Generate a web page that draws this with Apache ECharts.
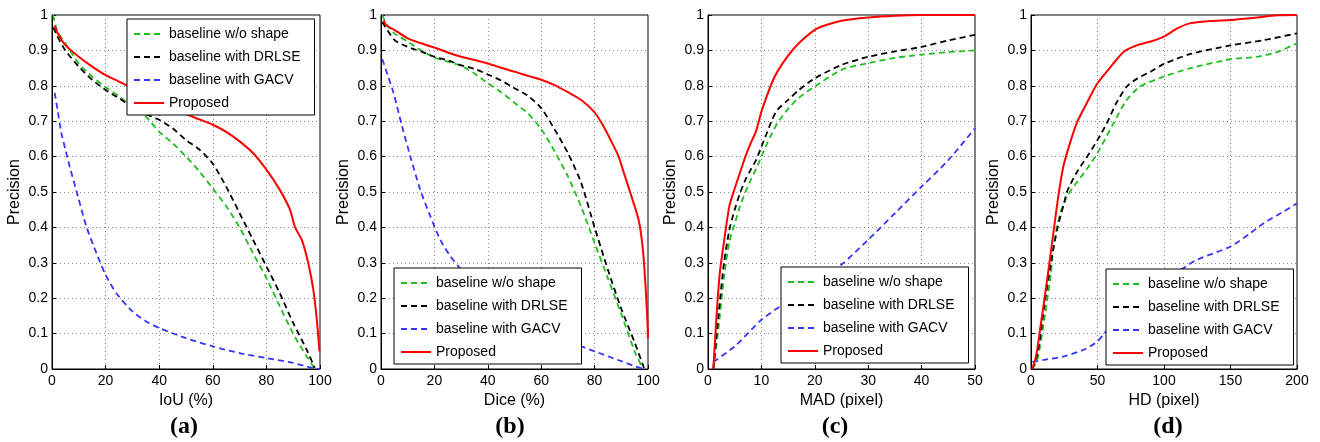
<!DOCTYPE html>
<html><head><meta charset="utf-8">
<script src="https://cdn.jsdelivr.net/npm/echarts@6/dist/echarts.min.js"></script>
<style>html,body{margin:0;padding:0;background:#fff}#c{width:1320px;height:442px}</style>
</head><body><div id="c"></div>
<script>
// ---------- data ----------
const seriesNames = ['baseline w/o shape', 'baseline with DRLSE', 'baseline with GACV', 'Proposed'];
const panelLabels = ['(a)', '(b)', '(c)', '(d)'];
const xAxisNames = ['IoU (%)', 'Dice (%)', 'MAD (pixel)', 'HD (pixel)'];
const xMaxes = [100, 100, 50, 200];
const xIntervals = [20, 20, 10, 50];
const yTicks = [0, 0.1, 0.2, 0.3, 0.4, 0.5, 0.6, 0.7, 0.8, 0.9, 1];

// (a) IoU
const iouWoShape = [[0.4,1.0],[2,0.955],[5,0.92],[10,0.863],[15,0.826],[20,0.796],[25,0.77],[30,0.74],[35,0.713],[40,0.67],[45,0.638],[50,0.60],[55,0.558],[60,0.51],[65,0.46],[70,0.40],[75,0.327],[80,0.257],[85,0.177],[90,0.10],[95,0.036],[98,0.002]];
const iouDrlse = [[0.5,0.965],[2,0.94],[5,0.90],[10,0.854],[15,0.817],[20,0.788],[25,0.765],[30,0.74],[35,0.72],[40,0.704],[45,0.68],[50,0.647],[55,0.62],[60,0.58],[65,0.515],[70,0.44],[75,0.365],[80,0.29],[85,0.214],[90,0.13],[95,0.055],[98,0.003]];
const iouGacv = [[1,0.78],[2,0.735],[3.5,0.666],[5,0.62],[6.6,0.572],[9.7,0.487],[12.8,0.403],[16.6,0.327],[20,0.266],[24,0.214],[30,0.163],[35,0.135],[40,0.116],[50,0.087],[60,0.064],[70,0.045],[80,0.031],[90,0.017],[97,0.003],[100,0]];
const iouProposed = [[1,0.97],[2,0.95],[5,0.915],[10,0.882],[15,0.854],[20,0.83],[25,0.812],[30,0.793],[40,0.755],[50,0.72],[55,0.705],[60,0.69],[65,0.67],[70,0.643],[75,0.61],[80,0.563],[85,0.506],[88.8,0.45],[90.7,0.40],[93.2,0.365],[95.6,0.30],[97.5,0.224],[98.8,0.14],[99.8,0.05]];

// (b) Dice
const diceWoShape = [[0.5,1.0],[2,0.975],[5,0.948],[10,0.925],[15,0.90],[20,0.88],[25,0.868],[30,0.856],[35,0.835],[40,0.807],[45,0.782],[50,0.752],[55,0.722],[60,0.678],[65,0.615],[70,0.544],[75,0.458],[80,0.356],[85,0.256],[90,0.155],[95,0.05],[98,0.002]];
const diceDrlse = [[0.5,0.98],[5,0.93],[10,0.91],[15,0.897],[20,0.882],[25,0.872],[30,0.858],[35,0.848],[40,0.832],[45,0.815],[50,0.793],[55,0.772],[60,0.737],[65,0.677],[70,0.61],[75,0.525],[80,0.40],[85,0.28],[90,0.17],[95,0.075],[98.5,0.003]];
const diceGacv = [[0.5,0.875],[2.5,0.83],[4.7,0.78],[7.9,0.685],[11,0.60],[14.7,0.506],[18.5,0.431],[22.2,0.365],[26,0.318],[29,0.29],[35,0.235],[42,0.185],[50,0.145],[60,0.105],[70,0.078],[75,0.064],[80,0.05],[85,0.036],[90,0.022],[95,0.008],[98,0.001]];
const diceProposed = [[1,0.985],[2,0.97],[5,0.958],[10,0.934],[15,0.92],[20,0.908],[25,0.894],[30,0.882],[35,0.873],[40,0.863],[45,0.851],[50,0.84],[55,0.828],[60,0.817],[65,0.802],[70,0.782],[75,0.76],[80,0.725],[83,0.69],[86,0.647],[89,0.60],[91,0.553],[93.4,0.497],[96.5,0.421],[98.1,0.337],[99,0.243],[99.7,0.15],[100,0.087]];

// (c) MAD
const madWoShape = [[1,0],[2,0.12],[3,0.26],[4,0.36],[5,0.41],[6,0.46],[7,0.5],[8,0.534],[9,0.565],[10,0.60],[11,0.635],[12,0.666],[13,0.695],[15,0.735],[17,0.766],[20,0.798],[25,0.845],[30,0.864],[35,0.879],[40,0.888],[45,0.895],[50,0.90]];
const madDrlse = [[1,0],[2,0.158],[3,0.30],[4,0.393],[5,0.45],[6,0.497],[7,0.534],[8,0.563],[9,0.59],[10,0.628],[11,0.666],[12,0.704],[13,0.732],[15,0.76],[17,0.788],[20,0.821],[25,0.859],[30,0.882],[35,0.897],[40,0.91],[45,0.928],[50,0.944]];
const madGacv = [[1,0.02],[5,0.064],[10,0.139],[13.5,0.177],[20,0.243],[25,0.295],[30,0.365],[35,0.44],[40,0.515],[45,0.59],[50,0.68]];
const madProposed = [[1,0],[1.6,0.15],[2.2,0.27],[3,0.36],[4,0.46],[5,0.51],[6,0.555],[7,0.60],[8,0.638],[9,0.672],[10,0.727],[11,0.77],[12,0.81],[13,0.84],[15,0.885],[17,0.92],[20,0.958],[22,0.971],[25,0.984],[30,0.993],[35,0.998],[40,1.0],[50,1.0]];

// (d) HD
const hdWoShape = [[1,0],[5,0.03],[10,0.14],[15,0.27],[17,0.35],[22,0.44],[27,0.487],[32,0.515],[42,0.565],[50,0.61],[62,0.694],[72,0.76],[82,0.798],[100,0.826],[120,0.85],[150,0.875],[170,0.882],[185,0.895],[200,0.92]];
const hdDrlse = [[1,0],[5,0.045],[10,0.177],[15,0.30],[20,0.40],[25,0.47],[27,0.5],[34,0.553],[44,0.61],[50,0.647],[57,0.694],[64,0.75],[72,0.798],[80,0.821],[90,0.84],[100,0.862],[120,0.89],[150,0.914],[175,0.929],[200,0.948]];
const hdGacv = [[1,0.02],[10,0.026],[25,0.036],[40,0.055],[50,0.078],[55,0.10],[70,0.16],[90,0.23],[100,0.255],[114,0.284],[125,0.309],[150,0.346],[165,0.384],[175,0.412],[190,0.445],[200,0.468]];
const hdProposed = [[1,0],[4,0.04],[6.8,0.111],[11.8,0.243],[16.8,0.384],[20.5,0.487],[24.3,0.572],[29.3,0.638],[34.3,0.694],[41.8,0.75],[50,0.807],[60,0.854],[70,0.897],[80,0.915],[90,0.925],[100,0.939],[110,0.962],[120,0.977],[135,0.983],[150,0.986],[170,0.993],[185,0.999],[200,1.0]];

const panelData = [
  [iouWoShape, iouDrlse, iouGacv, iouProposed],
  [diceWoShape, diceDrlse, diceGacv, diceProposed],
  [madWoShape, madDrlse, madGacv, madProposed],
  [hdWoShape, hdDrlse, hdGacv, hdProposed]
];

// ---------- layout / style ----------
const FONT = '"Liberation Sans", Arial, sans-serif';
const gridLefts = [52, 381, 708, 1031];
const gridWidths = [268, 267, 267, 266];
const legendPos = [[127, 19], [394, 268], [781, 267], [1106, 269]];
const labelCenters = [184, 510, 835, 1168];
const colors = ['#1fbf1f', '#000000', '#3535ff', '#ff0000'];
const lineTypes = [[6, 4], [6, 4], [6, 4], 'solid'];

const grids = [], xAxes = [], yAxes = [], series = [], legends = [], graphics = [];
for (let p = 0; p < 4; p++) {
  grids.push({left: gridLefts[p], top: 15, width: gridWidths[p], height: 354,
    show: true, borderColor: '#000', borderWidth: 1, backgroundColor: '#fff'});
  xAxes.push({type: 'value', gridIndex: p, min: 0, max: xMaxes[p], interval: xIntervals[p],
    name: xAxisNames[p], nameLocation: 'middle', nameGap: 21,
    nameTextStyle: {fontSize: 16, color: '#000', fontFamily: FONT},
    axisLine: {show: true, lineStyle: {color: '#000', width: 1}},
    axisTick: {show: true, inside: true, length: 4, lineStyle: {color: '#000'}},
    axisLabel: {fontSize: 14, color: '#000', fontFamily: FONT, margin: 5},
    splitLine: {show: true, lineStyle: {type: [1, 3], color: '#8a8a8a', width: 1}}});
  yAxes.push({type: 'value', gridIndex: p, min: 0, max: 1, interval: 0.1,
    name: 'Precision', nameLocation: 'middle', nameGap: 29, nameRotate: 90,
    nameTextStyle: {fontSize: 16, color: '#000', fontFamily: FONT},
    axisLine: {show: true, lineStyle: {color: '#000', width: 1}},
    axisTick: {show: true, inside: true, length: 4, lineStyle: {color: '#000'}},
    axisLabel: {fontSize: 14, color: '#000', fontFamily: FONT, margin: 4,
      formatter: v => { const t = yTicks.find(k => Math.abs(k - v) < 1e-6); return String(t !== undefined ? t : v); }},
    splitLine: {show: true, lineStyle: {type: [1, 3], color: '#8a8a8a', width: 1}}});
  for (let s = 0; s < 4; s++) {
    series.push({type: 'line', name: seriesNames[s], xAxisIndex: p, yAxisIndex: p,
      data: panelData[p][s], showSymbol: false, symbol: 'none', smooth: 0.25,
      lineStyle: {color: colors[s], width: s === 3 ? 2 : 1.8, type: lineTypes[s]},
      itemStyle: {color: colors[s]}, z: 2 + s});
  }
  legends.push({show: true, data: seriesNames.slice(),
    orient: 'vertical', left: legendPos[p][0], top: legendPos[p][1],
    itemWidth: 30, itemHeight: 14, itemGap: 9, padding: [8, 14, 5, 6],
    itemStyle: {opacity: 0},
    lineStyle: {width: 2},
    borderColor: '#000', borderWidth: 1, backgroundColor: '#fff', selectedMode: false, z: 20,
    textStyle: {fontSize: 14, color: '#000', fontFamily: FONT}});
  graphics.push({type: 'text', x: labelCenters[p], y: 427, z: 30,
    style: {text: panelLabels[p], align: 'center', verticalAlign: 'middle',
      font: 'bold 24px "Liberation Serif", "Times New Roman", serif', fill: '#000'}});
}

const chart = echarts.init(document.getElementById('c'), null, {renderer: 'canvas'});
chart.setOption({animation: false, backgroundColor: '#fff',
  grid: grids, xAxis: xAxes, yAxis: yAxes, series: series, legend: legends, graphic: graphics});
</script></body></html>
